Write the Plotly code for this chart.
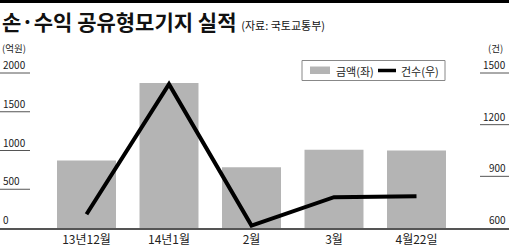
import plotly.graph_objects as go

categories = ["13년12월", "14년1월", "2월", "3월", "4월22일"]
amount = [870, 1870, 785, 1010, 1000]      # 금액(좌), 억원
count = [680, 1435, 614, 779, 785]         # 건수(우), 건
left_ticks = [0, 500, 1000, 1500, 2000]
right_ticks = [600, 900, 1200, 1500]

W, H = 509, 248
FONT = "Noto Sans CJK KR"

top_px, bottom_px = 40, 228
plot_h = bottom_px - top_px
px_per_left = 155 / 2000
px_per_right = 155 / 900
y_range = [0, plot_h / px_per_left]
y2_range = [600, 600 + plot_h / px_per_right]
x_range = [(0 - 86.5) / 82.5, (W - 86.5) / 82.5]


def py(p):
    """pixel y from top -> paper coordinate (relative to plot area)"""
    return (bottom_px - p) / plot_h


def px(p):
    return p / W


fig = go.Figure()
fig.add_trace(go.Bar(
    x=list(range(len(categories))), y=amount, name="금액(좌)",
    marker=dict(color="#b4b4b4", line=dict(width=0)),
    yaxis="y", showlegend=False,
))
fig.add_trace(go.Scatter(
    x=list(range(len(categories))), y=count, name="건수(우)",
    mode="lines", line=dict(color="#000000", width=4),
    yaxis="y2", showlegend=False,
))

shapes = []
annotations = []
tick_font = dict(size=10, color="#222", family=FONT)
unit_font = dict(size=9.5, color="#222", family=FONT)
# top black rule
shapes.append(dict(type="line", xref="paper", yref="paper", x0=0, x1=1,
                   y0=py(1.5), y1=py(1.5), line=dict(color="#000", width=3)))
# left tick rules + labels
for v in left_ticks:
    if v > 0:
        shapes.append(dict(type="line", xref="paper", yref="y", x0=0, x1=px(30),
                           y0=v, y1=v, line=dict(color="#555", width=1)))
    annotations.append(dict(xref="paper", yref="y", x=px(1), y=v, text=str(v),
                            showarrow=False, xanchor="left", yanchor="bottom",
                            yshift=-1, font=tick_font))
for v in right_ticks:
    yv = (v - 600) / 900 * 2000
    if v > 600:
        shapes.append(dict(type="line", xref="paper", yref="y", x0=px(480), x1=1,
                           y0=yv, y1=yv, line=dict(color="#555", width=1)))
    annotations.append(dict(xref="paper", yref="y", x=1 - px(1), y=yv, text=str(v),
                            showarrow=False, xanchor="right", yanchor="bottom",
                            yshift=-1, font=tick_font))
# units
annotations.append(dict(xref="paper", yref="paper", x=px(0), y=py(48), text="(억원)",
                        showarrow=False, xanchor="left", yanchor="middle", font=unit_font))
annotations.append(dict(xref="paper", yref="paper", x=1 - px(4), y=py(48), text="(건)",
                        showarrow=False, xanchor="right", yanchor="middle", font=unit_font))
# title
annotations.append(dict(xref="paper", yref="paper", x=0, y=py(21),
                        text="<b>손·수익 공유형모기지 실적</b> <span style='font-size:11px'>(자료: 국토교통부)</span>",
                        showarrow=False, xanchor="left", yanchor="middle",
                        font=dict(size=21, color="#111", family=FONT)))
# legend (drawn manually)
shapes.append(dict(type="rect", xref="paper", yref="paper", x0=px(302), x1=px(445),
                   y0=py(60.5), y1=py(80.5), line=dict(color="#888", width=1),
                   fillcolor="white"))
shapes.append(dict(type="rect", xref="paper", yref="paper", x0=px(310), x1=px(330),
                   y0=py(66.5), y1=py(74), line=dict(width=0), fillcolor="#b4b4b4"))
shapes.append(dict(type="line", xref="paper", yref="paper", x0=px(378), x1=px(396),
                   y0=py(70.5), y1=py(70.5), line=dict(color="#000", width=3.5)))
leg_font = dict(size=11, color="#222", family=FONT)
annotations.append(dict(xref="paper", yref="paper", x=px(334), y=py(70.5), text="금액(좌)",
                        showarrow=False, xanchor="left", yanchor="middle", font=leg_font))
annotations.append(dict(xref="paper", yref="paper", x=px(399), y=py(70.5), text="건수(우)",
                        showarrow=False, xanchor="left", yanchor="middle", font=leg_font))

fig.update_layout(
    width=W, height=H,
    margin=dict(l=0, r=0, t=top_px, b=H - bottom_px, pad=0),
    paper_bgcolor="white", plot_bgcolor="white",
    bargap=0.285,
    showlegend=False,
    xaxis=dict(range=x_range, tickmode="array", tickvals=list(range(len(categories))),
               ticktext=categories, showgrid=False, zeroline=False,
               showline=True, linecolor="#555", linewidth=2, ticks="",
               tickfont=dict(size=12, color="#222", family=FONT)),
    yaxis=dict(range=y_range, showgrid=False, zeroline=False, showticklabels=False,
               showline=False, ticks=""),
    yaxis2=dict(range=y2_range, overlaying="y", side="right", showgrid=False,
                zeroline=False, showticklabels=False, showline=False, ticks=""),
    shapes=shapes, annotations=annotations,
)

fig.write_html("out.html")
